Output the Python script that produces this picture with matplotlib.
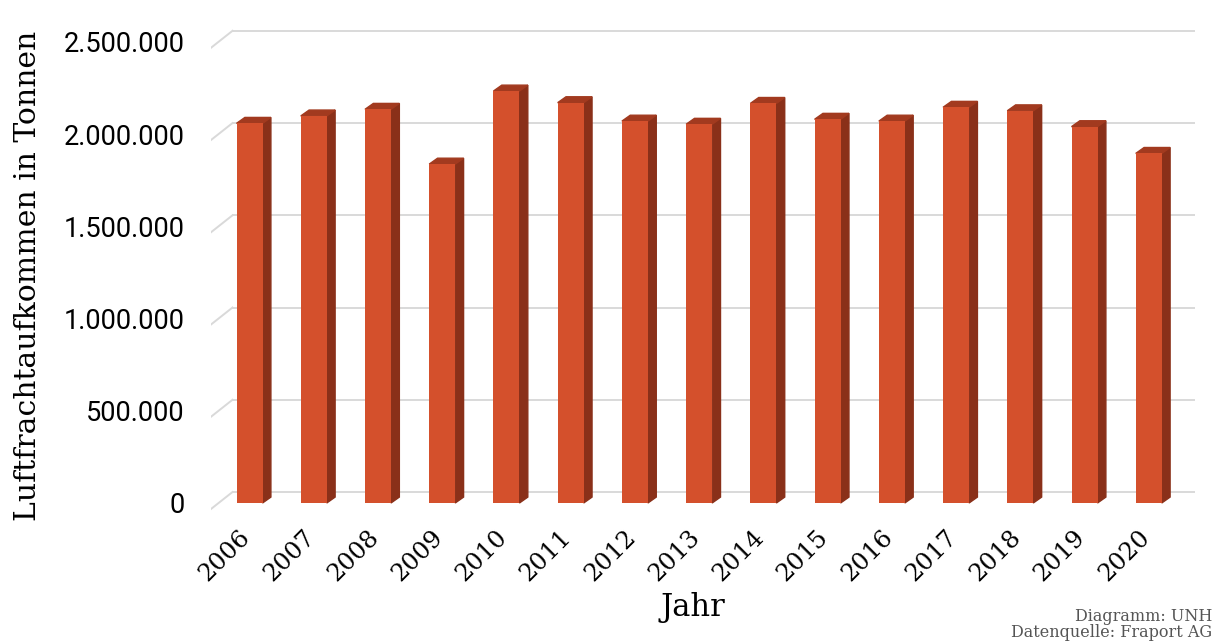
import numpy as np
import matplotlib
matplotlib.use('Agg')
import matplotlib.pyplot as plt
from matplotlib.patches import Polygon
from matplotlib.ticker import FuncFormatter

plt.rcParams['font.family'] = ['DejaVu Serif']

years = ['2006', '2007', '2008', '2009', '2010', '2011', '2012', '2013',
         '2014', '2015', '2016', '2017', '2018', '2019', '2020']
fracht = [2058000, 2098000, 2134000, 1837000, 2233000, 2170000, 2070000, 2053000,
          2166000, 2080000, 2070000, 2145000, 2126000, 2040000, 1895000]
y_ticks = [0, 500000, 1000000, 1500000, 2000000, 2500000]

front_col = '#D4502C'
side_col = '#8A3019'
top_col = '#A23A1F'
grid_col = '#D9D9D9'

fig = plt.figure(figsize=(12.18, 6.44), dpi=100)
ax = fig.add_axes([211 / 1218, 132 / 644, 984 / 1218, 487 / 644])

x = np.arange(len(years))
w = 0.405
ddx, ddy = 0.13, 32000          # bar depth (side/top face)
fdx, fy0, by0 = 0.335, -32500, 59600   # floor: front/back offsets

ax.set_xlim(-0.6, 14.72)
ax.set_ylim(-48800, 2591000)

# back wall gridlines + diagonal to the front
for v in y_ticks:
    ax.plot([-0.6, -0.6 + fdx], [v + fy0, v + by0], color=grid_col, lw=1.4, zorder=1)
    ax.plot([-0.6 + fdx, 14.72], [v + by0, v + by0], color=grid_col, lw=1.4, zorder=1)

ax.bar(x, fracht, w, color=front_col, zorder=3)
for xi, v in zip(x, fracht):
    r = xi + w / 2
    l = xi - w / 2
    ax.add_patch(Polygon([(r, 0), (r + ddx, ddy), (r + ddx, v + ddy), (r, v)],
                         closed=True, color=side_col, zorder=2))
    ax.add_patch(Polygon([(l, v), (r, v), (r + ddx, v + ddy), (l + ddx, v + ddy)],
                         closed=True, color=top_col, zorder=2))

for s in ax.spines.values():
    s.set_visible(False)

ax.set_yticks(y_ticks)
ax.yaxis.set_major_formatter(FuncFormatter(lambda v, p: f'{int(v):,}'.replace(',', '.')))
ax.tick_params(axis='y', length=0, pad=19, labelsize=19.5)
for t in ax.get_yticklabels():
    t.set_fontfamily('Roboto')

ax.set_xticks(x - 0.17)
ax.set_xticklabels(years, rotation=45, ha='right', rotation_mode='anchor')
ax.tick_params(axis='x', length=0, pad=10, labelsize=17.5)

ax.set_xlabel('Jahr', fontsize=22)
ax.xaxis.set_label_coords(0.49, -0.165)
ax.set_ylabel('Luftfrachtaufkommen in Tonnen', fontsize=21.5)
ax.yaxis.set_label_coords(-0.172, 0.485)

fig.text(0.995, 0.043, 'Diagramm: UNH', ha='right', va='center', fontsize=11.5, color='#555555')
fig.text(0.995, 0.018, 'Datenquelle: Fraport AG', ha='right', va='center', fontsize=11.5, color='#555555')

fig.savefig('out.png', dpi=100)
